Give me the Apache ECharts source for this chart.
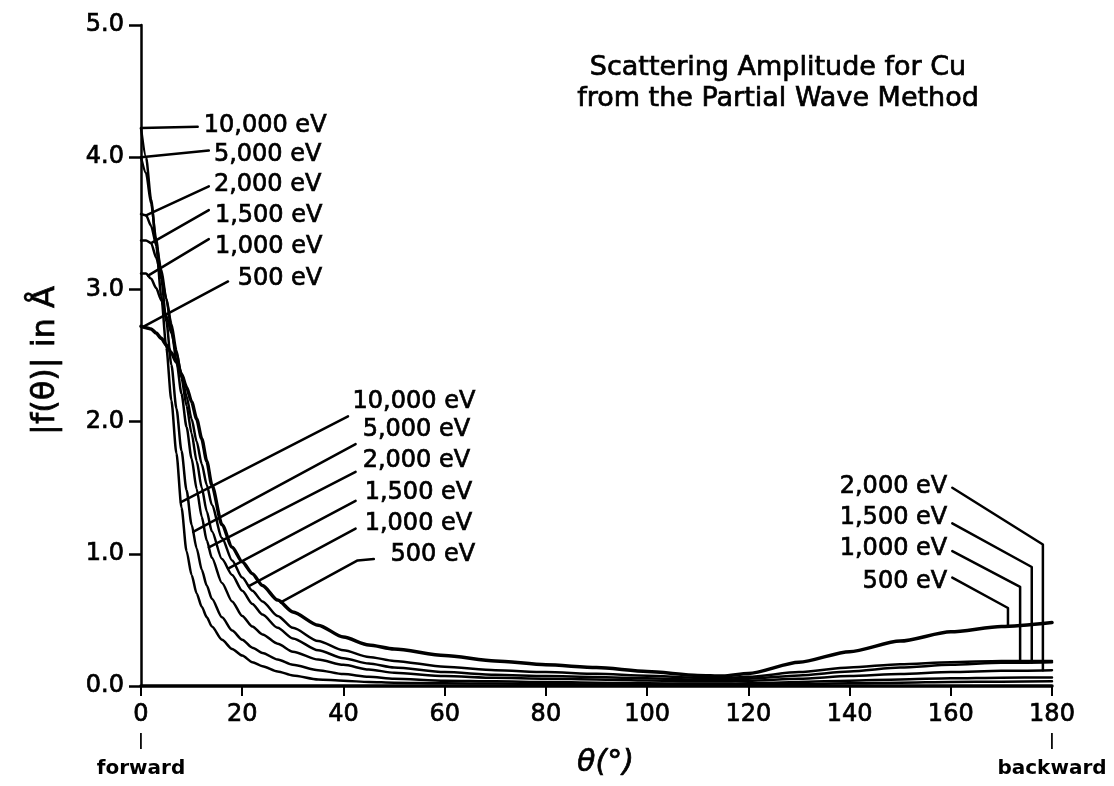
<!DOCTYPE html>
<html>
<head>
<meta charset="utf-8">
<script src="https://cdn.jsdelivr.net/npm/echarts@6/dist/echarts.min.js"></script>
<style>
  html, body { margin: 0; padding: 0; background: #ffffff; }
  #chart { width: 1114px; height: 786px; }
</style>
</head>
<body>
<div id="chart"></div>
<script>
// Scattering angle (degrees) at which every amplitude curve is sampled
const angles = [0, 1, 2, 3, 4, 5, 6, 7, 8, 9, 10, 11, 12, 13, 14,
  16, 18, 20, 22, 24, 27, 30, 35, 40, 45, 50,
  60, 70, 80, 90, 100, 110, 115, 120, 130, 140, 150, 160, 170, 180];

// |f(θ)| in Å for each electron energy
const amp10000 = [4.22, 4.00, 3.68, 3.33, 2.95, 2.56, 2.16, 1.76, 1.35, 1.02, 0.84, 0.70, 0.60, 0.52, 0.45,
  0.35, 0.28, 0.23, 0.18, 0.15, 0.11, 0.08, 0.05, 0.04, 0.03, 0.025,
  0.02, 0.018, 0.015, 0.012, 0.01, 0.01, 0.01, 0.012, 0.015, 0.02, 0.025, 0.03, 0.033, 0.035];
const amp5000 = [4.00, 3.88, 3.65, 3.38, 3.08, 2.76, 2.43, 2.10, 1.78, 1.48, 1.22, 1.04, 0.88, 0.76, 0.66,
  0.52, 0.42, 0.35, 0.29, 0.25, 0.20, 0.16, 0.12, 0.09, 0.07, 0.055,
  0.04, 0.035, 0.03, 0.025, 0.02, 0.018, 0.018, 0.02, 0.03, 0.04, 0.05, 0.058, 0.063, 0.065];
const amp2000 = [3.57, 3.56, 3.48, 3.34, 3.15, 2.93, 2.70, 2.46, 2.21, 1.96, 1.72, 1.49, 1.28, 1.10, 0.97,
  0.78, 0.64, 0.53, 0.45, 0.39, 0.32, 0.26, 0.20, 0.16, 0.125, 0.10,
  0.075, 0.062, 0.055, 0.05, 0.042, 0.035, 0.035, 0.04, 0.055, 0.075, 0.09, 0.105, 0.115, 0.12];
const amp1500 = [3.37, 3.37, 3.35, 3.24, 3.10, 2.93, 2.74, 2.54, 2.33, 2.12, 1.91, 1.70, 1.50, 1.32, 1.17,
  0.96, 0.84, 0.72, 0.62, 0.54, 0.44, 0.36, 0.27, 0.21, 0.17, 0.14,
  0.105, 0.085, 0.075, 0.068, 0.058, 0.048, 0.047, 0.055, 0.08, 0.11, 0.14, 0.16, 0.175, 0.18];
const amp1000 = [3.12, 3.12, 3.08, 3.01, 2.92, 2.80, 2.67, 2.52, 2.36, 2.19, 2.02, 1.85, 1.68, 1.52, 1.37,
  1.12, 0.95, 0.82, 0.72, 0.64, 0.53, 0.44, 0.34, 0.27, 0.22, 0.19,
  0.145, 0.12, 0.105, 0.092, 0.078, 0.062, 0.06, 0.07, 0.105, 0.14, 0.165, 0.18, 0.19, 0.19];
const amp500 = [2.72, 2.71, 2.70, 2.67, 2.63, 2.58, 2.52, 2.45, 2.36, 2.26, 2.15, 2.02, 1.87, 1.70, 1.52,
  1.22, 1.05, 0.94, 0.85, 0.76, 0.65, 0.56, 0.46, 0.37, 0.31, 0.28,
  0.23, 0.19, 0.16, 0.14, 0.11, 0.08, 0.075, 0.095, 0.18, 0.26, 0.34, 0.41, 0.45, 0.48];

const energyLabels = ['10,000 eV', '5,000 eV', '2,000 eV', '1,500 eV', '1,000 eV', '500 eV'];
const xTicks = [0, 20, 40, 60, 80, 100, 120, 140, 160, 180];
const yTicks = [0, 1, 2, 3, 4, 5];
const titleLines = ['Scattering Amplitude for Cu', 'from the Partial Wave Method'];

const FONT = 'DejaVu Sans';
const INK = '#000000';
// a hairline outline in the text colour gives the lettering a heavier, printed look
const HEAVY = { textBorderColor: INK, textBorderWidth: 0.7 };

const curves = [
  { label: energyLabels[0], values: amp10000, width: 2.5 },
  { label: energyLabels[1], values: amp5000, width: 2.5 },
  { label: energyLabels[2], values: amp2000, width: 2.5 },
  { label: energyLabels[3], values: amp1500, width: 2.5 },
  { label: energyLabels[4], values: amp1000, width: 2.5 },
  { label: energyLabels[5], values: amp500, width: 3.5 }
];

// Leader lines: each starts on its curve at angle `at`, then runs through `path` (data units);
// the label sits at `text` (data units) with the given alignment.
const notes = [
  // forward-peak labels, near θ = 0
  { c: 0, at: 0,   path: [[11.2, 4.23]], text: [12.4, 4.24], align: 'left' },
  { c: 1, at: 0,   path: [[13.4, 4.05]], text: [14.4, 4.02], align: 'left' },
  { c: 2, at: 1,   path: [[13.4, 3.78]], text: [14.4, 3.79], align: 'left' },
  { c: 3, at: 2,   path: [[13.4, 3.60]], text: [14.6, 3.56], align: 'left' },
  { c: 4, at: 1.4, path: [[13.4, 3.38]], text: [14.6, 3.32], align: 'left' },
  { c: 5, at: 0.4, path: [[17.2, 3.06]], text: [19.1, 3.08], align: 'left' },
  // labels on the falling flank
  { c: 0, at: 7.9,  path: [[40.9, 2.04]], text: [41.8, 2.15], align: 'left' },
  { c: 1, at: 10.3, path: [[42.4, 1.83]], text: [43.8, 1.94], align: 'left' },
  { c: 2, at: 13.4, path: [[42.4, 1.62]], text: [43.8, 1.70], align: 'left' },
  { c: 3, at: 17.2, path: [[42.4, 1.40]], text: [44.2, 1.46], align: 'left' },
  { c: 4, at: 21.3, path: [[42.4, 1.19]], text: [44.2, 1.23], align: 'left' },
  { c: 5, at: 27.6, path: [[42.8, 0.95], [46.0, 0.96]], text: [49.3, 0.99], align: 'left' },
  // backward-scattering labels
  { c: 2, at: 178.2, path: [[178.2, 1.07], [160.3, 1.50]], text: [159.3, 1.51], align: 'right' },
  { c: 3, at: 176.0, path: [[176.0, 0.90], [160.3, 1.23]], text: [159.3, 1.27], align: 'right' },
  { c: 4, at: 173.7, path: [[173.7, 0.75], [160.3, 1.02]], text: [159.3, 1.04], align: 'right' },
  { c: 5, at: 171.3, path: [[171.3, 0.59], [160.3, 0.82]], text: [159.3, 0.79], align: 'right' }
];

function valueAt(values, t) {
  for (let i = 0; i < angles.length - 1; i++) {
    if (t >= angles[i] && t <= angles[i + 1]) {
      const f = (t - angles[i]) / (angles[i + 1] - angles[i]);
      return values[i] + f * (values[i + 1] - values[i]);
    }
  }
  return values[values.length - 1];
}

const chart = echarts.init(document.getElementById('chart'), null, { renderer: 'canvas' });

const option = {
  backgroundColor: '#ffffff',
  animation: false,
  title: {
    text: titleLines.join('\n'),
    left: 773,
    top: 47,
    textAlign: 'center',
    textStyle: Object.assign({ fontFamily: FONT, fontSize: 27, fontWeight: 'normal', color: INK, lineHeight: 31 }, HEAVY)
  },
  grid: { left: 141, right: 62, top: 25, bottom: 100, outerBoundsMode: 'none', containLabel: false },
  xAxis: {
    type: 'value',
    min: 0,
    max: 180,
    interval: 20,
    name: 'θ(°)',
    nameLocation: 'middle',
    nameGap: 62,
    nameMoveOverlap: false,
    nameTextStyle: Object.assign({ fontFamily: FONT, fontSize: 30, color: INK, fontStyle: 'italic', padding: [0, 0, 0, 18] }, HEAVY),
    axisLine: { show: true, onZero: false, lineStyle: { color: INK, width: 3.5 } },
    axisTick: { show: true, inside: false, length: 10, lineStyle: { color: INK, width: 2 } },
    splitLine: { show: false },
    axisLabel: {
      margin: 16,
      color: INK,
      fontFamily: FONT,
      fontSize: 24,
      lineHeight: 26,
      formatter: function (v) {
        if (v === xTicks[0]) return '{n|' + v + '}\n{bar||}\n{w|forward}';
        if (v === xTicks[xTicks.length - 1]) return '{n|' + v + '}\n{bar||}\n{w|backward}';
        return '{n|' + v + '}';
      },
      rich: {
        n: Object.assign({ fontFamily: FONT, fontSize: 24, color: INK, lineHeight: 26 }, HEAVY),
        bar: { fontFamily: FONT, fontSize: 16, fontWeight: 'bold', color: INK, lineHeight: 26 },
        w: { fontFamily: FONT, fontSize: 20, fontWeight: 'bold', color: INK, lineHeight: 30 }
      }
    }
  },
  yAxis: {
    type: 'value',
    min: 0,
    max: 5,
    interval: 1,
    name: '|f(θ)| in Å',
    nameLocation: 'middle',
    nameGap: 79,
    nameRotate: 90,
    nameMoveOverlap: false,
    nameTextStyle: Object.assign({ fontFamily: FONT, fontSize: 32, color: INK, padding: [0, 10, 0, 0] }, HEAVY),
    axisLine: { show: true, lineStyle: { color: INK, width: 2.5 } },
    axisTick: { show: true, inside: false, length: 12, lineStyle: { color: INK, width: 2.5 } },
    splitLine: { show: false },
    axisLabel: Object.assign({
      margin: 17,
      color: INK,
      fontFamily: FONT,
      fontSize: 24,
      formatter: function (v) { return v.toFixed(1); }
    }, HEAVY)
  },
  series: curves.map(function (c) {
    return {
      type: 'line',
      name: c.label,
      data: angles.map(function (a, i) { return [a, c.values[i]]; }),
      showSymbol: false,
      smooth: 0.25,
      smoothMonotone: 'x',
      silent: true,
      lineStyle: { color: INK, width: c.width, cap: 'round', join: 'round' }
    };
  })
};

chart.setOption(option);

// Leader lines and energy labels, placed through the grid's own coordinate conversion
function drawNotes() {
  const toPx = function (p) { return chart.convertToPixel({ gridIndex: 0 }, p); };
  const elements = [];
  notes.forEach(function (n) {
    const vals = curves[n.c].values;
    const pts = [toPx([n.at, valueAt(vals, n.at)])].concat(n.path.map(toPx));
    elements.push({
      type: 'polyline',
      silent: true,
      shape: { points: pts },
      style: { stroke: INK, lineWidth: 2.5, fill: null, lineJoin: 'round', lineCap: 'round' }
    });
    const tp = toPx(n.text);
    elements.push({
      type: 'text',
      silent: true,
      x: tp[0],
      y: tp[1],
      style: {
        text: curves[n.c].label,
        fontFamily: FONT,
        fontSize: 24,
        fill: INK,
        stroke: INK,
        lineWidth: 0.7,
        align: n.align,
        verticalAlign: 'middle'
      }
    });
  });
  chart.setOption({ graphic: { elements: elements } });
}
drawNotes();
</script>
</body>
</html>
